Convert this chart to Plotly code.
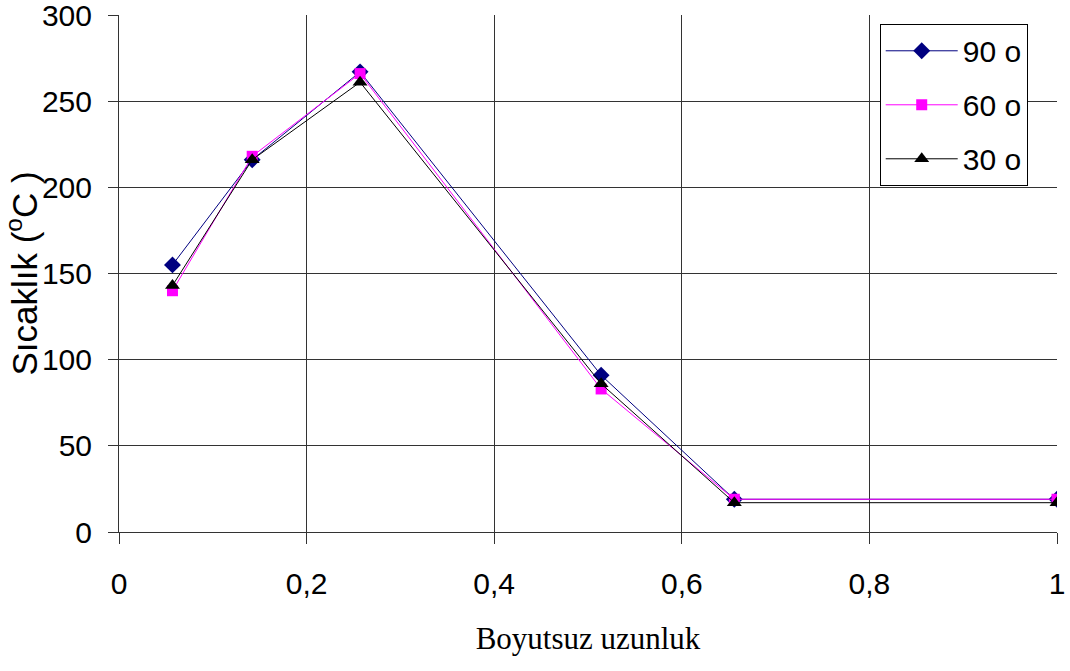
import plotly.graph_objects as go

x_vals = [0.057, 0.142, 0.257, 0.514, 0.656, 1.0]
s90 = [155, 216, 267, 91, 19, 19]
s60 = [140, 218, 266, 83, 19, 19]
s30 = [143, 216, 261, 86, 17, 17]
series_names = ["90 o", "60 o", "30 o"]
x_ticks = [0, 0.2, 0.4, 0.6, 0.8, 1]
x_ticklabels = ["0", "0,2", "0,4", "0,6", "0,8", "1"]
y_ticks = [0, 50, 100, 150, 200, 250, 300]

fig = go.Figure()
fig.add_trace(go.Scatter(x=x_vals, y=s90, name=series_names[0], mode="lines+markers",
                         legendgroup="a",
                         line=dict(color="#000080", width=1),
                         marker=dict(symbol="diamond", size=13, color="#000080")))
fig.add_trace(go.Scatter(x=x_vals, y=s60, name=series_names[1], mode="lines+markers",
                         legendgroup="b",
                         line=dict(color="#FF00FF", width=1),
                         marker=dict(symbol="square", size=11, color="#FF00FF")))
fig.add_trace(go.Scatter(x=x_vals, y=s30, name=series_names[2], mode="lines+markers",
                         legendgroup="c",
                         line=dict(color="#000000", width=1),
                         marker=dict(symbol="triangle-up", size=13, color="#000000")))

fig.update_layout(
    width=1070, height=671,
    margin=dict(l=119, r=13, t=15, b=139, autoexpand=False),
    paper_bgcolor="white", plot_bgcolor="white",
    font=dict(family="Liberation Sans, Arial", size=30, color="black"),
    legend=dict(x=0.811, y=0.983, xanchor="left", yanchor="top",
                bordercolor="black", borderwidth=1, bgcolor="white",
                font=dict(size=30), tracegroupgap=12, itemwidth=72),
    showlegend=True,
)
fig.update_xaxes(range=[0, 1], tickvals=x_ticks, ticktext=x_ticklabels,
                 automargin=False, ticklabeloverflow="allow",
                 showgrid=True, gridcolor="#333333", gridwidth=1,
                 showline=True, linecolor="#333333", linewidth=1,
                 ticks="outside", ticklen=11, tickcolor="#333333",
                 ticklabelstandoff=14, zeroline=False,
                 title=dict(text="Boyutsuz uzunluk",
                            font=dict(family="Liberation Serif, Times New Roman", size=31),
                            standoff=28))
fig.update_yaxes(range=[0, 300], tickvals=y_ticks,
                 automargin=False, ticklabeloverflow="allow",
                 showgrid=True, gridcolor="#333333", gridwidth=1,
                 showline=True, linecolor="#333333", linewidth=1,
                 ticks="outside", ticklen=10, tickcolor="#333333",
                 ticklabelstandoff=10, zeroline=False,
                 title=dict(text="Sıcaklık (<sup>o</sup>C )", font=dict(size=35), standoff=4))

fig.write_html("out.html", config={"displayModeBar": False},
               post_script="document.body.style.margin='0';document.body.style.overflow='hidden';")
